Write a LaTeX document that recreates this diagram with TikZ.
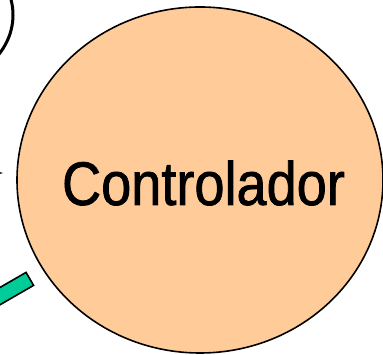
\documentclass[tikz,border=0pt]{standalone}
\usepackage{fontspec}
\usepackage{tikz}
\usetikzlibrary{shapes.geometric, arrows}
\newfontfamily\ctrlfont[FakeStretch=0.88, FakeBold=1.2]{Liberation Sans}
\definecolor{CTRLorange}{RGB}{255,204,153}
\definecolor{BUSgreen}{RGB}{0,204,153}
\tikzset{ctrl/.style={ellipse, draw, line width=1.6pt, fill=CTRLorange, inner sep=0pt}}
\tikzset{other/.style={ellipse, draw, line width=3pt, fill=white, inner sep=0pt}}
\tikzset{bus/.style={rectangle, draw, line width=1.6pt, fill=BUSgreen, inner sep=0pt}}
\tikzset{next/.style={->, >=latex}}

\begin{document}
\begin{tikzpicture}[x=1pt, y=1pt]

  \useasboundingbox (0,0) rectangle (383,355);
  \clip (0,0) rectangle (383,355);

  % --- neighbour, off to the upper left ---
  \node[other, minimum width=166, minimum height=141] (prev) at (-70,340) {};

  % --- incoming arrow ---
  \coordinate (inS) at (-20,182);
  \coordinate (inE) at (3,182);
  \draw[next, line width=1.2pt] (inS) -- (inE);

  % --- controller ---
  \node[ctrl, minimum width=366, minimum height=346] (ctl) at (200,175) {};
  \node[font=\ctrlfont\fontsize{61.5}{70}\selectfont] (ctltext) at (203.5,172) {Controlador};

  % --- bus bar ---
  \node[bus, anchor=east, rotate=30, minimum width=90, minimum height=15] (bus) at (30.5,76.5) {};

\end{tikzpicture}
\end{document}
